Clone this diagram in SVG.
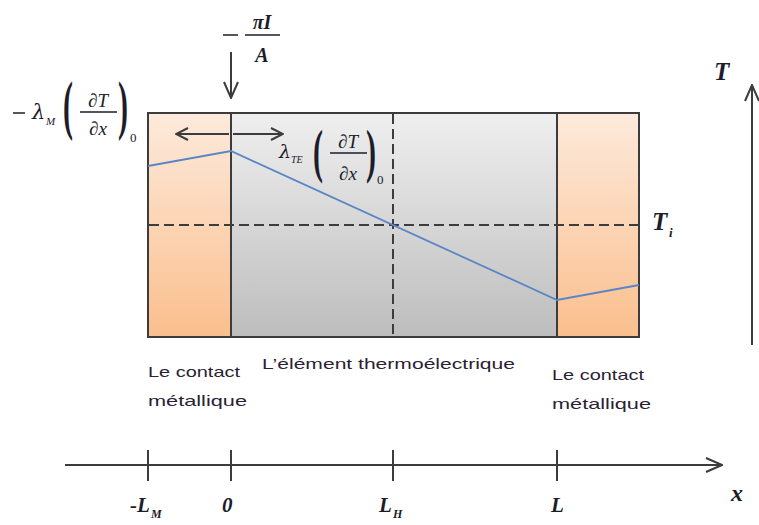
<svg xmlns="http://www.w3.org/2000/svg" width="759" height="525" viewBox="0 0 759 525">
<style>
.m{font-family:"Liberation Serif","Times New Roman",serif;font-style:italic;fill:#1c1c2a}
.g{font-family:"DejaVu Serif","Liberation Serif",serif;font-style:italic;fill:#1c1c2a}
.b{font-weight:bold}
.up{font-style:normal}
.lbl{font-family:"Liberation Sans",Arial,sans-serif;font-size:15px;fill:#2a2233}
.edge{stroke:#3c3c3c;stroke-width:2}
.peach{fill:url(#gPeach)}
.grey{fill:url(#gGrey)}
.ln{fill:none;stroke:#3c3c3c;stroke-width:2}
.dash{fill:none;stroke:#3c3c3c;stroke-width:2;stroke-dasharray:10,5}
.prof{fill:none;stroke:#5a86c5;stroke-width:1.8}
.bar{stroke:#1c1c2a;stroke-width:1.5}
</style>
<defs>
<linearGradient id="gPeach" x1="0" y1="0" x2="0" y2="1">
<stop offset="0" stop-color="#fdeadc"/>
<stop offset="1" stop-color="#fabf8d"/>
</linearGradient>
<linearGradient id="gGrey" x1="0" y1="0" x2="0" y2="1">
<stop offset="0" stop-color="#efefef"/>
<stop offset="1" stop-color="#bdbdbd"/>
</linearGradient>
<marker id="ah" viewBox="0 0 18 16" refX="17" refY="8" markerWidth="18" markerHeight="16" markerUnits="userSpaceOnUse" orient="auto">
<path d="M1,1 L17,8 L1,15" fill="none" stroke="#3c3c3c" stroke-width="2"/>
</marker>
<marker id="ahs" viewBox="0 0 14 14" refX="13" refY="7" markerWidth="14" markerHeight="14" markerUnits="userSpaceOnUse" orient="auto">
<path d="M1,1 L13,7 L1,13" fill="none" stroke="#3c3c3c" stroke-width="2"/>
</marker>
</defs>

<g id="contact-left">
<rect x="148" y="113" width="83" height="224" class="edge peach"/>
</g>
<g id="element">
<rect x="231" y="113" width="326" height="224" class="edge grey"/>
</g>
<g id="contact-right">
<rect x="557" y="113" width="82" height="224" class="edge peach"/>
</g>

<g id="guides">
<line x1="393" y1="114" x2="393" y2="336" class="dash"/>
<line x1="149" y1="225" x2="638" y2="225" class="dash"/>
</g>

<g id="profile">
<polyline points="148,166 231,151 557,300 639,285" class="prof"/>
</g>

<g id="connectors">
<line x1="231" y1="52" x2="231" y2="98" class="ln" marker-end="url(#ah)"/>
<line x1="229" y1="134" x2="176" y2="134" class="ln" marker-end="url(#ahs)"/>
<line x1="233" y1="134" x2="283" y2="134" class="ln" marker-end="url(#ahs)"/>
<line x1="752" y1="345" x2="752" y2="85" class="ln" marker-end="url(#ah)"/>
<line x1="65" y1="465" x2="722" y2="465" class="ln" marker-end="url(#ah)"/>
<line x1="148" y1="450" x2="148" y2="481" class="ln"/>
<line x1="231" y1="450" x2="231" y2="481" class="ln"/>
<line x1="393" y1="450" x2="393" y2="481" class="ln"/>
<line x1="557" y1="450" x2="557" y2="481" class="ln"/>
</g>

<g id="label-heat">
<line x1="223" y1="35" x2="238" y2="35" class="bar"/>
<line x1="245" y1="35" x2="280" y2="35" class="bar"/>
<text x="262" y="29" class="m b" font-size="20" text-anchor="middle">πI</text>
<text x="262" y="62" class="m b" font-size="20" text-anchor="middle">A</text>
</g>

<g id="label-lambda-m">
<line x1="13" y1="113" x2="25" y2="113" class="bar"/>
<text x="32" y="119" class="g" font-size="21">λ</text>
<text x="46" y="125" class="m" font-size="11">M</text>
<text transform="translate(63,112) scale(1,2.2)" y="7" class="m up b" font-size="30">(</text>
<text x="98" y="107" class="m" font-size="19" text-anchor="middle">∂T</text>
<line x1="80" y1="112" x2="117" y2="112" class="bar"/>
<text x="98" y="135" class="m" font-size="19" text-anchor="middle">∂x</text>
<text transform="translate(118,112) scale(1,2.2)" y="7" class="m up b" font-size="30">)</text>
<text x="130" y="142" class="m up" font-size="13">0</text>
</g>

<g id="label-lambda-te">
<text x="279" y="158" class="g" font-size="19">λ</text>
<text x="291" y="163" class="m" font-size="10">TE</text>
<text transform="translate(313,157) scale(1,2.0)" y="7" class="m up b" font-size="30">(</text>
<text x="348" y="148" class="m" font-size="19" text-anchor="middle">∂T</text>
<line x1="330" y1="153" x2="367" y2="153" class="bar"/>
<text x="348" y="180" class="m" font-size="19" text-anchor="middle">∂x</text>
<text transform="translate(366,157) scale(1,2.0)" y="7" class="m up b" font-size="30">)</text>
<text x="377" y="184" class="m up" font-size="13">0</text>
</g>

<g id="label-axes">
<text x="714" y="80" class="m b" font-size="25">T</text>
<text x="652" y="230" class="m b" font-size="25">T</text>
<text x="669" y="237" class="m b" font-size="13">i</text>
<text x="731" y="501" class="m b" font-size="24">x</text>
<text x="130" y="512" class="m b" font-size="21">-L</text>
<text x="151" y="518" class="m b" font-size="12">M</text>
<text x="222" y="512" class="m b" font-size="21">0</text>
<text x="379" y="512" class="m b" font-size="21">L</text>
<text x="393" y="518" class="m b" font-size="12">H</text>
<text x="551" y="512" class="m b" font-size="21">L</text>
</g>

<g id="label-regions">
<text x="148" y="377" class="lbl" textLength="92" lengthAdjust="spacingAndGlyphs">Le contact</text>
<text x="148" y="406" class="lbl" textLength="99" lengthAdjust="spacingAndGlyphs">métallique</text>
<text x="262" y="369" class="lbl" textLength="253" lengthAdjust="spacingAndGlyphs">L’élément thermoélectrique</text>
<text x="552" y="380" class="lbl" textLength="92" lengthAdjust="spacingAndGlyphs">Le contact</text>
<text x="552" y="409" class="lbl" textLength="99" lengthAdjust="spacingAndGlyphs">métallique</text>
</g>
</svg>
